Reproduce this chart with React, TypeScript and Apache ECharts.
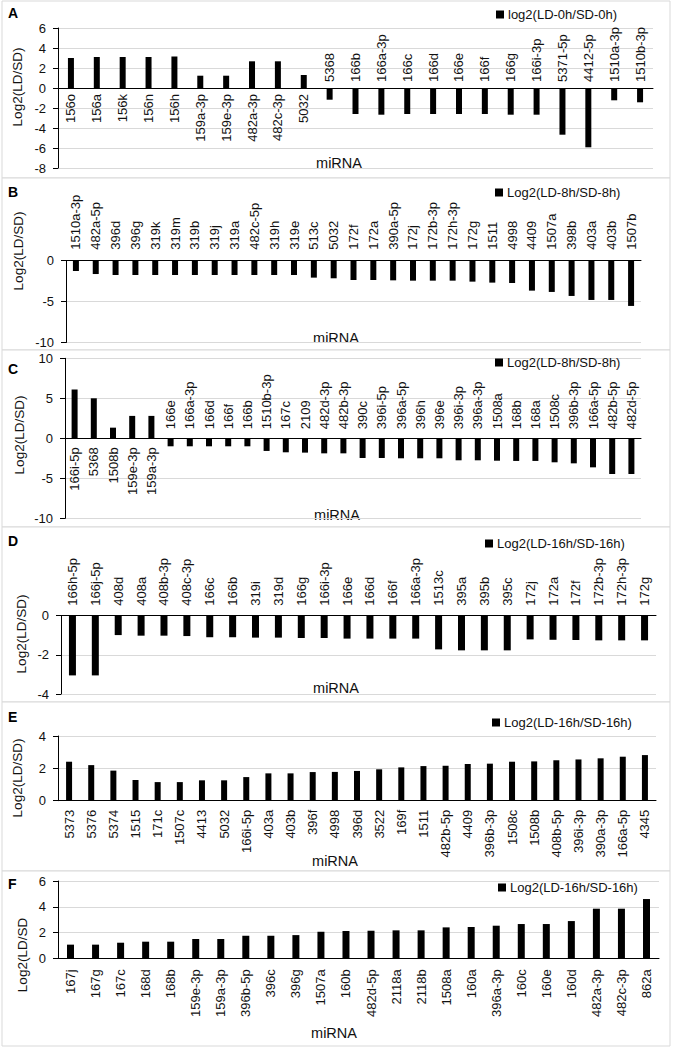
import React, { useEffect, useRef } from 'react';
import * as echarts from 'echarts';

// ---------- DATA ----------
const catsA = ['156o','156a','156k','156n','156h','159a-3p','159e-3p','482a-3p','482c-3p','5032','5368','166b','166a-3p','166c','166d','166e','166f','166g','166i-3p','5371-5p','4412-5p','1510a-3p','1510b-3p'];
const valsA = [3.0,3.1,3.1,3.1,3.15,1.23,1.23,2.67,2.67,1.3,-1.17,-2.6,-2.67,-2.6,-2.6,-2.6,-2.6,-2.67,-2.67,-4.67,-5.93,-1.23,-1.43];

const catsB = ['1510a-3p','482a-5p','396d','396g','319k','319m','319b','319j','319a','482c-5p','319h','319e','513c','5032','172f','172a','390a-5p','172j','172b-3p','172h-3p','172g','1511','4998','4409','1507a','398b','403a','403b','1507b'];
const valsB = [-1.26,-1.63,-1.75,-1.75,-1.75,-1.75,-1.75,-1.75,-1.75,-1.75,-1.75,-1.75,-2.07,-2.15,-2.36,-2.36,-2.4,-2.44,-2.44,-2.44,-2.56,-2.68,-2.72,-3.66,-3.82,-4.31,-4.8,-4.8,-5.53];

const catsC = ['166i-5p','5368','1508b','159e-3p','159a-3p','166e','166a-3p','166d','166f','166b','1510b-3p','167c','2109','482d-3p','482b-3p','390c','396i-5p','396a-5p','396h','396e','396i-3p','396a-3p','1508a','168b','168a','1508c','396b-3p','166a-5p','482b-5p','482d-5p'];
const valsC = [6.1,5.0,1.33,2.8,2.8,-1.0,-1.0,-1.0,-1.0,-1.0,-1.58,-1.75,-1.79,-1.88,-1.88,-2.46,-2.46,-2.5,-2.5,-2.5,-2.75,-2.75,-2.8,-2.83,-2.83,-3.0,-3.13,-3.63,-4.46,-4.46];

const catsD = ['166h-5p','166j-5p','408d','408a','408b-3p','408c-3p','166c','166b','319i','319d','166g','166i-3p','166e','166d','166f','166a-3p','1513c','395a','395b','395c','172j','172a','172f','172b-3p','172h-3p','172g'];
const valsD = [-3.05,-3.05,-0.99,-1.02,-1.02,-1.04,-1.1,-1.1,-1.12,-1.12,-1.14,-1.14,-1.17,-1.17,-1.17,-1.17,-1.72,-1.77,-1.77,-1.77,-1.21,-1.23,-1.24,-1.26,-1.26,-1.26];

const catsE = ['5373','5376','5374','1515','171c','1507c','4413','5032','166i-5p','403a','403b','396f','4998','396d','3522','169f','1511','482b-5p','4409','396b-3p','1508c','1508b','408b-5p','396i-3p','390a-3p','166a-5p','4345'];
const valsE = [2.41,2.2,1.86,1.28,1.15,1.15,1.26,1.26,1.46,1.69,1.69,1.77,1.78,1.84,1.94,2.06,2.14,2.16,2.27,2.29,2.41,2.43,2.5,2.55,2.62,2.72,2.82];

const catsF = ['167j','167g','167c','168d','168b','159e-3p','159a-3p','396b-5p','396c','396g','1507a','160b','482d-5p','2118a','2118b','1508a','160a','396a-3p','160c','160e','160d','482a-3p','482c-3p','862a'];
const valsF = [1.06,1.06,1.21,1.29,1.29,1.5,1.5,1.75,1.75,1.8,2.06,2.12,2.14,2.17,2.17,2.4,2.43,2.53,2.66,2.66,2.89,3.85,3.85,4.6];

const seriesNames = ['log2(LD-0h/SD-0h)','Log2(LD-8h/SD-8h)','Log2(LD-8h/SD-8h)','Log2(LD-16h/SD-16h)','Log2(LD-16h/SD-16h)','Log2(LD-16h/SD-16h)'];
const panelLetters = ['A','B','C','D','E','F'];
const yNames = ['Log2(LD/SD)','Log2(LD/SD)','Log2(LD/SD)','Log2(LD/SD)','Log2(LD/SD)','Log2(LD/SD'];
const yMin = [-8,-10,-10,-4,0,0];
const yMax = [6,0,10,0,4,6];
const yInterval = [2,5,5,2,2,2];
const xName = 'miRNA';

// ---------- LAYOUT ----------
const FONT = '"Liberation Sans", Arial, Helvetica, sans-serif';
const TXT = '#111';

const layout = [
  { left: 58, right: 653, top: 28, bottom: 168, barW: 6, gap: 6, yname: [17, 87], letter: 13, legend: [496, 15], mi: [339, 163] },
  { left: 66, right: 641, top: 260.7, bottom: 342.5, barW: 6, gap: 11, yname: [18, 251], letter: 192, legend: [495, 193], mi: [336, 338] },
  { left: 65, right: 641, top: 358.3, bottom: 518.3, barW: 6, gap: 9, yname: [19, 435], letter: 369, legend: [495, 363], mi: [337, 515] },
  { left: 61, right: 656, top: 615.7, bottom: 694, barW: 7, gap: 10, yname: [21, 634], letter: 541, legend: [485, 544], mi: [336, 688] },
  { left: 58, right: 656, top: 736, bottom: 800.7, barW: 6, gap: 9, yname: [17, 778], letter: 717, legend: [492, 723], mi: [335, 861] },
  { left: 58, right: 659, top: 881, bottom: 958.3, barW: 7, gap: 11, yname: [22, 955], letter: 884, legend: [498, 888], mi: [334, 1033] },
];
const panelBox = [
  [2, 1, 668, 177],
  [2, 178, 668, 172],
  [2, 350, 668, 177],
  [2, 527, 668, 175],
  [2, 702, 668, 169],
  [2, 871, 668, 175],
];

const allCats = [catsA, catsB, catsC, catsD, catsE, catsF];
const allVals = [valsA, valsB, valsC, valsD, valsE, valsF];

function buildOption() {
  const grid: any[] = [];
  const xAxis: any[] = [];
  const yAxis: any[] = [];
  const series: any[] = [];
  const legend: any[] = [];
  const graphic: any[] = [];

  panelBox.forEach((b) => {
    graphic.push({
      type: 'rect', z: -10, silent: true,
      shape: { x: b[0], y: b[1], width: b[2], height: b[3] },
      style: { fill: '#fff', stroke: '#d9d9d9', lineWidth: 1 },
    });
  });

  layout.forEach((L, k) => {
    grid.push({ left: L.left, width: L.right - L.left, top: L.top, height: L.bottom - L.top, containLabel: false });
    xAxis.push({
      gridIndex: k, type: 'category', data: allCats[k],
      axisLine: { show: true, onZero: true, lineStyle: { color: '#000', width: 1 } },
      axisTick: { show: false }, axisLabel: { show: false }, splitLine: { show: false },
    });
    yAxis.push({
      gridIndex: k, type: 'value', min: yMin[k], max: yMax[k], interval: yInterval[k],
      axisLine: { show: true, onZero: false, lineStyle: { color: '#000', width: 1 } },
      axisTick: { show: true, length: 5, lineStyle: { color: '#000' } },
      axisLabel: { fontSize: 13, color: TXT, margin: 12, fontFamily: FONT },
      splitLine: { show: true, lineStyle: { color: '#d9d9d9', width: 1 } },
    });
    series.push({
      type: 'bar', name: seriesNames[k], xAxisIndex: k, yAxisIndex: k,
      data: allVals[k], barWidth: L.barW, itemStyle: { color: '#000' },
      silent: true,
    });
    const cats = allCats[k];
    const gap = L.gap;
    series.push({
      type: 'custom', name: 'labels' + k, xAxisIndex: k, yAxisIndex: k,
      silent: true, clip: false, z: 5,
      data: allVals[k].map((v, i) => [i, v]),
      renderItem: (params: any, api: any) => {
        const i = api.value(0) as number;
        const v = api.value(1) as number;
        const p = api.coord([i, 0]);
        const pos = v >= 0;
        return {
          type: 'text',
          x: p[0],
          y: pos ? p[1] + gap : p[1] - gap,
          rotation: Math.PI / 2,
          style: {
            text: cats[i],
            align: pos ? 'right' : 'left',
            verticalAlign: 'middle',
            fontSize: 13,
            fontFamily: FONT,
            fill: TXT,
          },
        };
      },
    });
    legend.push({
      data: [seriesNames[k]], left: L.legend[0], top: L.legend[1] - 7, padding: 0,
      icon: 'rect', itemWidth: 8, itemHeight: 8, selectedMode: false,
      textStyle: { fontSize: 13, color: TXT, fontFamily: FONT, padding: [0, 0, 0, -1] },
    });
    graphic.push({
      type: 'text', x: L.yname[0], y: L.yname[1], rotation: Math.PI / 2, silent: true,
      style: { text: yNames[k], fontSize: 13.5, fontFamily: FONT, fill: TXT, align: 'center', verticalAlign: 'middle' },
    });
    graphic.push({
      type: 'text', x: 8, y: L.letter, silent: true,
      style: { text: panelLetters[k], fontSize: 14, fontWeight: 'bold', fontFamily: FONT, fill: '#000', align: 'left', verticalAlign: 'middle' },
    });
    graphic.push({
      type: 'text', x: L.mi[0], y: L.mi[1], silent: true,
      style: { text: xName, fontSize: 14.5, fontFamily: FONT, fill: TXT, align: 'center', verticalAlign: 'middle' },
    });
  });

  return {
    animation: false,
    backgroundColor: '#fff',
    textStyle: { fontFamily: FONT },
    grid, xAxis, yAxis, series, legend, graphic,
  };
}

export default function App() {
  const ref = useRef<HTMLDivElement>(null);
  useEffect(() => {
    document.body.style.margin = '0';
    if (!ref.current) return;
    const chart = echarts.init(ref.current, undefined, { renderer: 'svg' });
    chart.setOption(buildOption() as any);
    return () => chart.dispose();
  }, []);
  return <div ref={ref} style={{ width: 673, height: 1047 }} />;
}
